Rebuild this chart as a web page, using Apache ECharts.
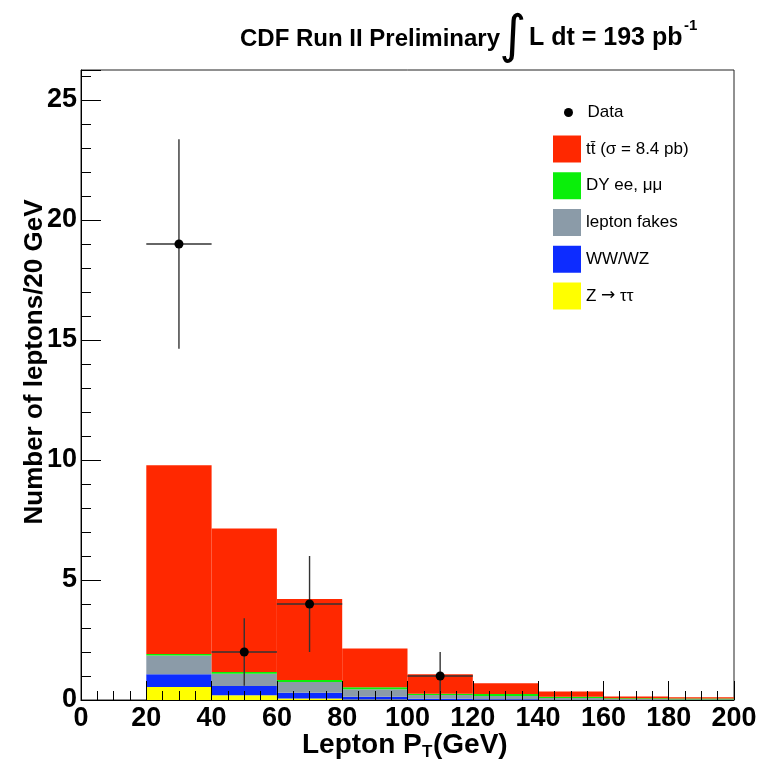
<!DOCTYPE html>
<html>
<head>
<meta charset="utf-8">
<script src="https://cdn.jsdelivr.net/npm/echarts@6/dist/echarts.min.js"></script>
<style>
  html, body { margin: 0; padding: 0; background: #fff; }
  #chart { width: 760px; height: 764px; }
</style>
</head>
<body>
<div id="chart"></div>
<script>
// Lepton pT histogram: 20 GeV bins, stacked expectations plus observed data
const binLow  = [20, 40, 60, 80, 100, 120, 140, 160, 180];
const binHigh = [40, 60, 80, 100, 120, 140, 160, 180, 200];

// stacked contributions, bottom to top
const zTauTau   = [0.54, 0.20, 0.06, 0.02, 0.00, 0.00, 0.00, 0.00, 0.00];
const wwWz      = [0.53, 0.38, 0.24, 0.12, 0.05, 0.03, 0.01, 0.01, 0.00];
const fakes     = [0.78, 0.51, 0.45, 0.31, 0.16, 0.14, 0.07, 0.03, 0.03];
const dyEeMuMu  = [0.07, 0.08, 0.08, 0.08, 0.05, 0.08, 0.06, 0.03, 0.03];
const ttbar     = [7.86, 5.98, 3.38, 1.62, 0.81, 0.45, 0.21, 0.08, 0.05];

// observed data points
const dataX    = [30, 50, 70, 110];
const dataY    = [19, 2, 4, 1];
const dataYErr = [4.36, 1.41, 2.0, 1.0];
const dataXErr = [10, 10, 10, 10];

const xTicks = [0, 20, 40, 60, 80, 100, 120, 140, 160, 180, 200];
const yTicks = [0, 5, 10, 15, 20, 25];

const FONT = 'Liberation Sans, Arial, Helvetica, sans-serif';

const components = [
  { name: 'Z \u2192 \u03c4\u03c4', values: zTauTau, color: '#ffff00' },
  { name: 'WW/WZ', values: wwWz, color: '#0d2cff' },
  { name: 'lepton fakes', values: fakes, color: '#8b9ba8' },
  { name: 'DY ee, \u03bc\u03bc', values: dyEeMuMu, color: '#0aef0a' },
  { name: 'tt\u0304 (\u03c3 = 8.4 pb)', values: ttbar, color: '#ff2800' }
];

// cumulative stacking
const cumulative = binLow.map(() => 0);
const histSeries = components.map(c => {
  const rows = binLow.map((lo, i) => {
    const base = cumulative[i];
    const top = base + c.values[i];
    cumulative[i] = top;
    return [lo, binHigh[i], base, top];
  });
  return {
    type: 'custom',
    name: c.name,
    itemStyle: { color: c.color },
    encode: { x: [0, 1], y: [2, 3] },
    data: rows,
    renderItem: function (params, api) {
      const p0 = api.coord([api.value(0), api.value(3)]);
      const p1 = api.coord([api.value(1), api.value(2)]);
      if (p1[1] - p0[1] <= 0) return null;
      return {
        type: 'rect',
        shape: { x: p0[0], y: p0[1], width: p1[0] - p0[0], height: p1[1] - p0[1] },
        style: { fill: c.color }
      };
    },
    z: 2
  };
});

const dataSeries = {
  type: 'custom',
  name: 'Data',
  itemStyle: { color: '#000' },
  encode: { x: 0, y: 1 },
  data: dataX.map((x, i) => [x, dataY[i], dataXErr[i], dataYErr[i]]),
  renderItem: function (params, api) {
    const x = api.value(0), y = api.value(1), ex = api.value(2), ey = api.value(3);
    const c = api.coord([x, y]);
    const l = api.coord([x - ex, y]);
    const r = api.coord([x + ex, y]);
    const t = api.coord([x, y + ey]);
    const b = api.coord([x, y - ey]);
    const ls = { stroke: '#333', lineWidth: 1.4 };
    return {
      type: 'group',
      children: [
        { type: 'line', shape: { x1: l[0], y1: l[1], x2: r[0], y2: r[1] }, style: ls },
        { type: 'line', shape: { x1: t[0], y1: t[1], x2: b[0], y2: b[1] }, style: ls },
        { type: 'circle', shape: { cx: c[0], cy: c[1], r: 4.5 }, style: { fill: '#000' } }
      ]
    };
  },
  z: 4
};

const legendText = {
  fontFamily: FONT, fontSize: 17, color: '#000',
  rich: { arr: { fontFamily: 'DejaVu Sans', fontSize: 17, color: '#000' } }
};

const chart = echarts.init(document.getElementById('chart'), null, { renderer: 'canvas' });

chart.setOption({
  animation: false,
  backgroundColor: '#fff',
  grid: {
    left: 81, right: 26, top: 70, bottom: 64,
    show: true, borderColor: '#222', borderWidth: 1, backgroundColor: 'transparent'
  },
  legend: [
    {
      data: [{ name: 'Data', icon: 'circle' }],
      left: 559, top: 99,
      padding: 5,
      itemWidth: 28, itemHeight: 9,
      selectedMode: false,
      textStyle: legendText
    },
    {
      data: components.slice().reverse().map(c => ({ name: c.name, icon: 'rect' })),
      orient: 'vertical',
      left: 548, top: 130.5,
      padding: 5,
      itemWidth: 28, itemHeight: 27, itemGap: 9.75,
      selectedMode: false,
      formatter: name => name.replace('\u2192', '{arr|\u2192}'),
      textStyle: legendText
    }
  ],
  xAxis: {
    type: 'value', min: xTicks[0], max: xTicks[xTicks.length - 1], interval: 20,
    z: 6,
    axisLine: { show: true, onZero: false, lineStyle: { color: '#000', width: 1 } },
    axisTick: { show: true, inside: true, length: 19, lineStyle: { color: '#000', width: 1 } },
    minorTick: { show: true, splitNumber: 4, length: 9, lineStyle: { color: '#000', width: 1 } },
    splitLine: { show: false },
    axisLabel: {
      margin: 5, color: '#000', fontFamily: FONT, fontWeight: 'bold', fontSize: 27,
      formatter: v => (xTicks.indexOf(v) >= 0 ? String(v) : '')
    }
  },
  yAxis: {
    type: 'value', min: 0, max: 26.25, interval: 5,
    z: 6,
    axisLine: { show: true, lineStyle: { color: '#000', width: 1 } },
    axisTick: { show: true, inside: true, length: 20, lineStyle: { color: '#000', width: 1 } },
    minorTick: { show: true, splitNumber: 5, length: 10, lineStyle: { color: '#000', width: 1 } },
    splitLine: { show: false },
    axisLabel: {
      margin: 4, color: '#000', fontFamily: FONT, fontWeight: 'bold', fontSize: 27,
      showMaxLabel: false,
      formatter: v => (yTicks.indexOf(v) >= 0 ? String(v) : '')
    }
  },
  graphic: [
    {
      type: 'text', left: 240, top: 27,
      style: { text: 'CDF Run II Preliminary', font: 'bold 24px ' + FONT, fill: '#000' }
    },
    {
      type: 'text', left: 499, top: 12,
      style: { text: '\u222b', font: '52px DejaVu Sans', fill: '#000' }
    },
    {
      type: 'text', left: 529, top: 26,
      style: { text: 'L dt = 193 pb', font: 'bold 25px ' + FONT, fill: '#000' }
    },
    {
      type: 'text', left: 684, top: 18,
      style: { text: '-1', font: 'bold 15px ' + FONT, fill: '#000' }
    },
    {
      type: 'text', x: 22, y: 362, rotation: Math.PI / 2,
      style: {
        text: 'Number of leptons/20 GeV', font: 'bold 26px ' + FONT, fill: '#000',
        align: 'center', verticalAlign: 'top'
      }
    },
    {
      type: 'group', left: 302, top: 731,
      children: [
        { type: 'text', x: 0, y: 0, style: { text: 'Lepton P', font: 'bold 28px ' + FONT, fill: '#000' } },
        { type: 'text', x: 120, y: 13, style: { text: 'T', font: 'bold 17px ' + FONT, fill: '#000' } },
        { type: 'text', x: 131, y: 0, style: { text: '(GeV)', font: 'bold 28px ' + FONT, fill: '#000' } }
      ]
    }
  ],
  series: histSeries.concat([dataSeries])
});
</script>
</body>
</html>
